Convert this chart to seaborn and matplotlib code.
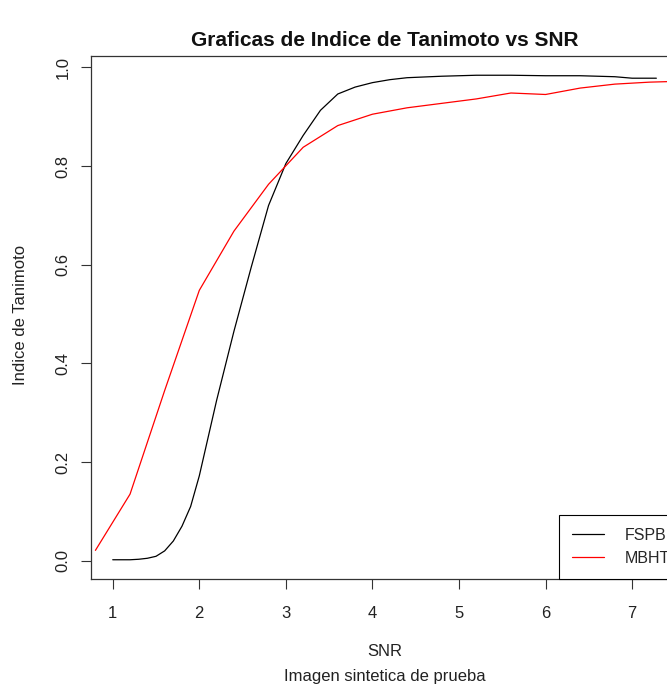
import matplotlib
matplotlib.use("Agg")
import matplotlib.pyplot as plt
import numpy as np
import pandas as pd
import seaborn as sns

# ---- data ----
snr_fspb = [1.0, 1.2, 1.3, 1.4, 1.5, 1.6, 1.7, 1.8, 1.9, 2.0, 2.2, 2.4, 2.6, 2.8, 3.0,
            3.2, 3.4, 3.6, 3.8, 4.0, 4.2, 4.4, 4.8, 5.2, 5.6, 6.0, 6.4, 6.8, 7.0, 7.28]
tanimoto_fspb = [0.002, 0.002, 0.003, 0.005, 0.009, 0.020, 0.040, 0.070, 0.110, 0.172,
                 0.325, 0.465, 0.595, 0.720, 0.805, 0.862, 0.913, 0.946, 0.960, 0.969,
                 0.975, 0.979, 0.982, 0.984, 0.984, 0.983, 0.983, 0.981, 0.978, 0.978]
snr_mbht = [0.8, 1.2, 1.6, 2.0, 2.4, 2.8, 3.2, 3.6, 4.0, 4.4, 4.8, 5.2, 5.6, 6.0,
            6.4, 6.8, 7.2, 7.6]
tanimoto_mbht = [0.021, 0.135, 0.345, 0.548, 0.668, 0.763, 0.838, 0.882, 0.905, 0.918,
                 0.927, 0.936, 0.948, 0.945, 0.958, 0.966, 0.970, 0.972]
series = ["FSPB", "MBHT"]
colors = ["black", "red"]

title = "Graficas de Indice de Tanimoto vs SNR"
xlabel = "SNR"
xsub = "Imagen sintetica de prueba"
ylabel = "Indice de Tanimoto"
xticks = [1, 2, 3, 4, 5, 6, 7]
yticks = [0.0, 0.2, 0.4, 0.6, 0.8, 1.0]

df = pd.concat([
    pd.DataFrame({"SNR": snr_fspb, "Tanimoto": tanimoto_fspb, "Metodo": series[0]}),
    pd.DataFrame({"SNR": snr_mbht, "Tanimoto": tanimoto_mbht, "Metodo": series[1]}),
], ignore_index=True)

sns.set_theme(style="white")
plt.rcParams["font.family"] = ["Liberation Sans", "DejaVu Sans"]

W, H = 667, 687
fig = plt.figure(figsize=(W / 100, H / 100), dpi=100)
ax_l, ax_r, ax_t, ax_b = 91, 678, 56, 579
ax = fig.add_axes([ax_l / W, 1 - ax_b / H, (ax_r - ax_l) / W, (ax_b - ax_t) / H])

sns.lineplot(data=df, x="SNR", y="Tanimoto", hue="Metodo", palette=colors,
             estimator=None, sort=False, linewidth=0.9, ax=ax, legend=True)

ax.set_xlim(0.749, 7.53)
ax.set_ylim(-0.037, 1.023)
ax.set_xticks(xticks)
ax.set_xticklabels([str(t) for t in xticks])
ax.set_yticks(yticks)
ax.set_yticklabels([f"{t:.1f}" for t in yticks], rotation=90, va="center")
ax.set_xlabel("")
ax.set_ylabel("")
for s in ax.spines.values():
    s.set_color("#333333")
    s.set_linewidth(0.9)
ax.tick_params(axis="both", direction="out", length=7.5, width=0.8, color="#333333",
               labelsize=12, labelcolor="#222222", bottom=True, left=True)
ax.tick_params(axis="x", pad=12)
ax.tick_params(axis="y", pad=7)
ax.grid(False)

handles, labels = ax.get_legend_handles_labels()
leg = ax.legend(handles, labels, loc="lower right", bbox_to_anchor=(1.008, 0.0),
                borderaxespad=0, fontsize=11.5, handlelength=2.0, handletextpad=1.3,
                borderpad=0.82, labelspacing=0.5, fancybox=False, framealpha=1,
                edgecolor="black", title=None)
leg.get_frame().set_linewidth(0.8)
for lh in leg.get_lines():
    lh.set_linewidth(0.9)

cx = (ax_l + ax_r) / 2 / W
fig.text(cx, 1 - 40 / H, title, ha="center", va="center", fontsize=15,
         fontweight="bold", color="#111111")
fig.text(cx, 1 - 651 / H, xlabel, ha="center", va="center", fontsize=12, color="#222222")
fig.text(cx, 1 - 676 / H, xsub, ha="center", va="center", fontsize=12, color="#222222")
fig.text(21 / W, 1 - 315 / H, ylabel, ha="center", va="center", rotation=90,
         fontsize=12, color="#222222")

fig.savefig("out.png", dpi=100)
